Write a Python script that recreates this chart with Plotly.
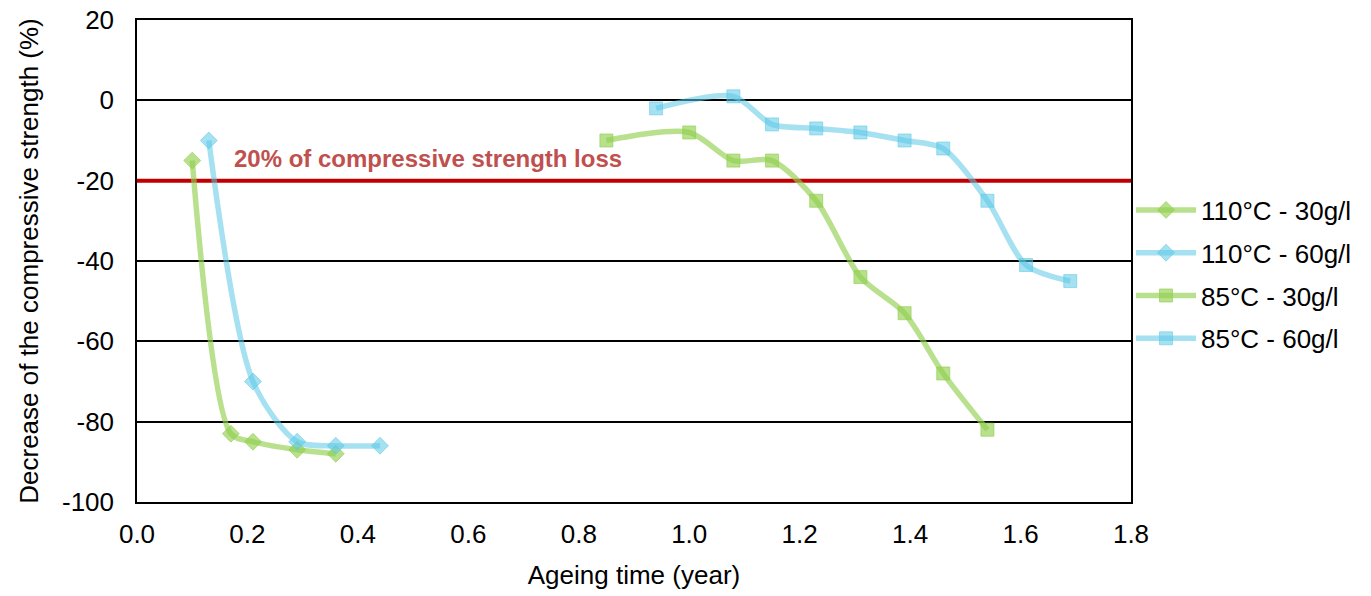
import plotly.graph_objects as go

# Data
x_110_30 = [0.10, 0.17, 0.21, 0.29, 0.36]
y_110_30 = [-15, -83, -85, -87, -88]

x_110_60 = [0.13, 0.21, 0.29, 0.36, 0.44]
y_110_60 = [-10, -70, -85, -86, -86]

x_85_30 = [0.85, 1.00, 1.08, 1.15, 1.23, 1.31, 1.39, 1.46, 1.54]
y_85_30 = [-10, -8, -15, -15, -25, -44, -53, -68, -82]

x_85_60 = [0.94, 1.08, 1.15, 1.23, 1.31, 1.39, 1.46, 1.54, 1.61, 1.69]
y_85_60 = [-2, 1, -6, -7, -8, -10, -12, -25, -41, -45]

y_tick_values = [-100, -80, -60, -40, -20, 0, 20]
y_tick_labels = ["-100", "-80", "-60", "-40", "-20", "0", "20"]

threshold_x = [0.0, 1.8]
threshold_y = [-20, -20]
threshold_label = "20% of compressive strength loss"

GREEN = "rgba(146,208,80,0.65)"
BLUE = "rgba(91,200,230,0.55)"
FONT = "Liberation Sans, Arial, sans-serif"

fig = go.Figure()

fig.add_trace(go.Scatter(
    x=threshold_x, y=threshold_y, mode="lines",
    line=dict(color="#C00000", width=4), showlegend=False, hoverinfo="skip"))

def add(name, xs, ys, color, symbol, size):
    fig.add_trace(go.Scatter(
        x=xs, y=ys, name=name, mode="lines+markers", legendgroup=name,
        line=dict(color=color, width=5.5, shape="spline", smoothing=0.8),
        marker=dict(symbol=symbol, size=size, color=color,
                    line=dict(color=color, width=1))))

add("110°C - 30g/l", x_110_30, y_110_30, GREEN, "diamond", 13)
add("110°C - 60g/l", x_110_60, y_110_60, BLUE, "diamond", 13)
add("85°C - 30g/l", x_85_30, y_85_30, GREEN, "square", 13)
add("85°C - 60g/l", x_85_60, y_85_60, BLUE, "square", 13)

fig.add_annotation(
    x=0.172, y=-14.5, xref="x", yref="y", text="<b>" + threshold_label + "</b>",
    showarrow=False, xanchor="left", yanchor="middle",
    font=dict(family=FONT, size=24, color="#C0504D"))

fig.update_layout(
    width=1371, height=596,
    margin=dict(l=129, r=248, t=12, b=102, autoexpand=False),
    paper_bgcolor="white", plot_bgcolor="white",
    font=dict(family=FONT, size=26, color="black"),
    showlegend=True,
    legend=dict(x=1.0, y=0.472, xanchor="left", yanchor="middle",
                font=dict(size=26), itemwidth=60, tracegroupgap=6,
                bgcolor="rgba(0,0,0,0)"),
    xaxis=dict(range=[0, 1.8], dtick=0.2, tickformat=".1f",
               showgrid=False, showline=True, linecolor="black", linewidth=1.5,
               mirror=True, ticks="", zeroline=False, ticklabelstandoff=8,
               automargin=False,
               title=dict(text="Ageing time (year)", standoff=18,
                          font=dict(family=FONT, size=26)),
               tickfont=dict(size=26)),
    yaxis=dict(range=[-100, 20], tickmode="array",
               tickvals=y_tick_values, ticktext=y_tick_labels,
               showgrid=True, gridcolor="black", gridwidth=1.5,
               showline=True, linecolor="black", linewidth=1.5,
               mirror=True, ticks="", zeroline=False, ticklabelstandoff=16,
               ticklabeloverflow="allow", automargin=False,
               title=dict(text="Decrease of the compressive strength (%)", standoff=16,
                          font=dict(family=FONT, size=26)),
               tickfont=dict(size=26)),
)

fig.write_html("out.html")
